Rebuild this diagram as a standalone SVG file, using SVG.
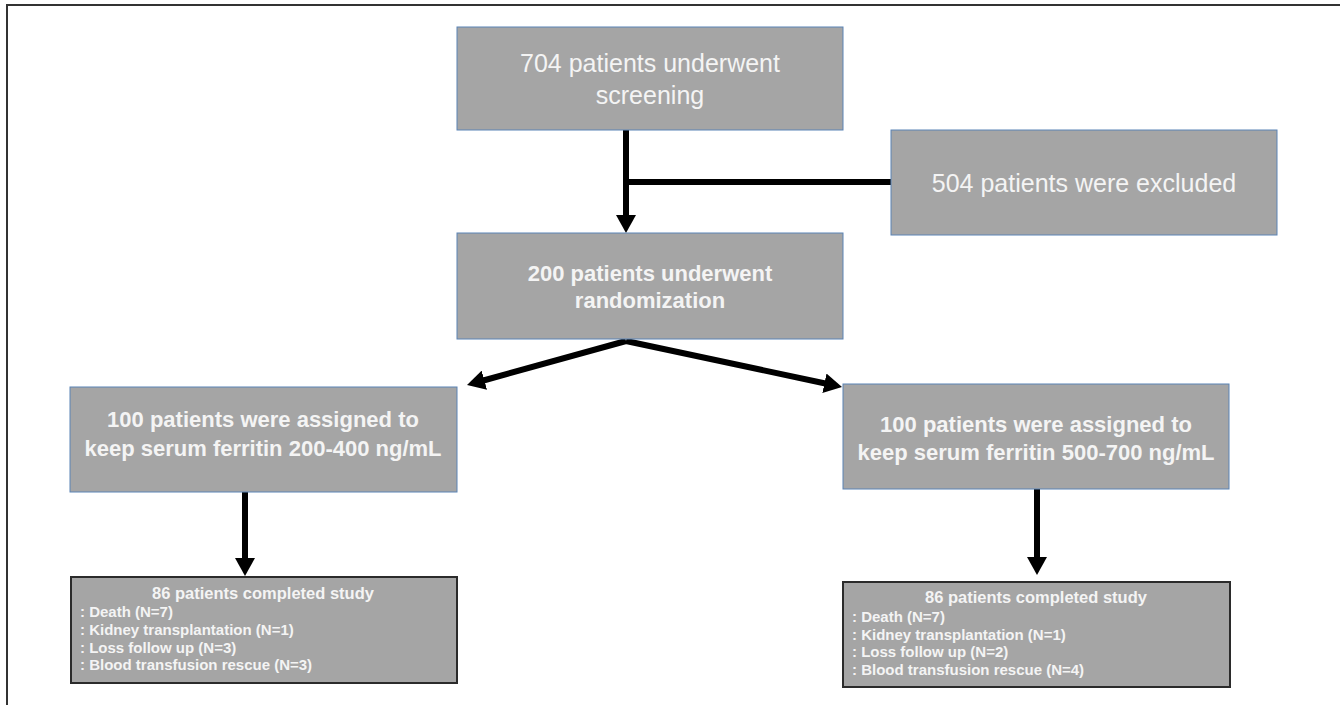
<svg xmlns="http://www.w3.org/2000/svg" width="1340" height="705" viewBox="0 0 1340 705">
<style>
.box{fill:#a5a5a5;stroke:#5b83b5;stroke-width:1}
.sbox{fill:#a5a5a5;stroke:#2b2b2b;stroke-width:2}
.t{font-family:"Liberation Sans",Arial,sans-serif;fill:#f4f4f4;text-anchor:middle}
.reg{font-size:25px}
.bold{font-size:22px;font-weight:bold}
.st{font-family:"Liberation Sans",Arial,sans-serif;fill:#f4f4f4;font-weight:bold}
.c{stroke:#000;stroke-width:6;fill:none}
</style>
<defs>
<marker id="ah" viewBox="0 0 18 20" refX="1" refY="10" markerWidth="18" markerHeight="20" markerUnits="userSpaceOnUse" orient="auto">
<path d="M0,0 L18,10 L0,20 z" fill="#000"/>
</marker>
</defs>
<rect width="1340" height="705" fill="#fff"/>
<path d="M7,705 L7,5 L1340,5" fill="none" stroke="#333" stroke-width="2"/>

<g id="connectors">
<line class="c" x1="626" y1="130" x2="626" y2="216" marker-end="url(#ah)"/>
<line class="c" x1="623" y1="182" x2="891" y2="182"/>
<line class="c" x1="626" y1="341" x2="483.4" y2="380.5" marker-end="url(#ah)"/>
<line class="c" x1="626" y1="341" x2="825.4" y2="383.5" marker-end="url(#ah)"/>
<line class="c" x1="245" y1="492" x2="245" y2="559" marker-end="url(#ah)"/>
<line class="c" x1="1037" y1="489" x2="1037" y2="558" marker-end="url(#ah)"/>
</g>

<g id="screening">
<rect class="box" x="457" y="27" width="386" height="103"/>
<text class="t reg" x="650" y="72">704 patients underwent</text>
<text class="t reg" x="650" y="104">screening</text>
</g>

<g id="excluded">
<rect class="box" x="891" y="130" width="386" height="105"/>
<text class="t reg" x="1084" y="192">504 patients were excluded</text>
</g>

<g id="randomization">
<rect class="box" x="457" y="233" width="386" height="106"/>
<text class="t bold" x="650" y="281">200 patients underwent</text>
<text class="t bold" x="650" y="308">randomization</text>
</g>

<g id="arm-low">
<rect class="box" x="70" y="387" width="387" height="105"/>
<text class="t bold" x="263" y="427">100 patients were assigned to</text>
<text class="t bold" x="263" y="456">keep serum ferritin 200-400 ng/mL</text>
</g>

<g id="arm-high">
<rect class="box" x="843" y="384" width="386" height="105"/>
<text class="t bold" x="1036" y="432">100 patients were assigned to</text>
<text class="t bold" x="1036" y="460">keep serum ferritin 500-700 ng/mL</text>
</g>

<g id="result-low">
<rect class="sbox" x="71" y="577" width="386" height="106"/>
<text class="t" x="263" y="599" font-size="16.5" font-weight="bold">86 patients completed study</text>
<text class="st" font-size="15" x="80" y="617">: Death (N=7)</text>
<text class="st" font-size="15" x="80" y="635">: Kidney transplantation (N=1)</text>
<text class="st" font-size="15" x="80" y="653">: Loss follow up (N=3)</text>
<text class="st" font-size="15" x="80" y="670">: Blood transfusion rescue (N=3)</text>
</g>

<g id="result-high">
<rect class="sbox" x="843" y="582" width="387" height="105"/>
<text class="t" x="1036" y="603" font-size="16.5" font-weight="bold">86 patients completed study</text>
<text class="st" font-size="15" x="852" y="622">: Death (N=7)</text>
<text class="st" font-size="15" x="852" y="640">: Kidney transplantation (N=1)</text>
<text class="st" font-size="15" x="852" y="657">: Loss follow up (N=2)</text>
<text class="st" font-size="15" x="852" y="675">: Blood transfusion rescue (N=4)</text>
</g>
</svg>
